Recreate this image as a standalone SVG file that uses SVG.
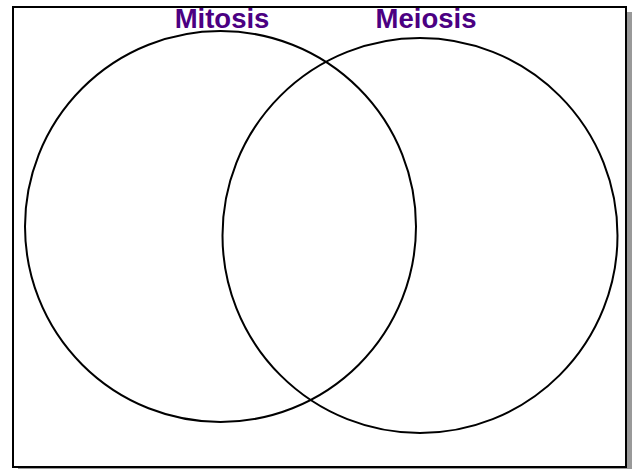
<svg xmlns="http://www.w3.org/2000/svg" width="635" height="469" viewBox="0 0 635 469">
<style>
.lbl{font-family:"Liberation Sans",Arial,sans-serif;font-weight:bold;font-size:27.5px;fill:#4B0082;text-anchor:middle}
.c{fill:none;stroke:#000;stroke-width:2}
</style>
<rect x="0" y="0" width="635" height="469" fill="#fff"/>
<rect id="shadow" x="18" y="12" width="614" height="460" fill="#999"/>
<rect id="frame" x="13" y="7" width="613" height="460" fill="#fff" stroke="#000" stroke-width="2"/>
<g id="mitosis">
<circle class="c" cx="220.5" cy="226.5" r="195.5"/>
<text class="lbl" x="222" y="27.5">Mitosis</text>
</g>
<g id="meiosis">
<circle class="c" cx="420" cy="235.5" r="197.5"/>
<text class="lbl" x="426" y="27.5">Meiosis</text>
</g>
<g id="connectors"></g>
</svg>
